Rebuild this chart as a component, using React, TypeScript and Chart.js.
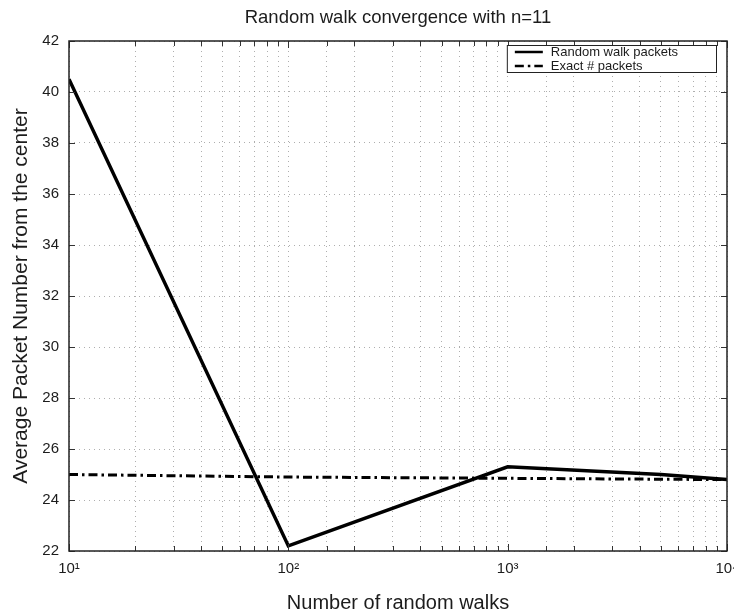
import React, { useEffect, useRef } from 'react';
import { Chart, registerables } from 'chart.js';

Chart.register(...registerables);

// ---- data ----
const walkCounts = [10, 100, 1000, 5000, 10000];
const randomWalkPackets = [40.5, 22.2, 25.3, 25.0, 24.8];
const exactWalkCounts = [10, 100, 1000, 10000];
const exactPackets = [25.0, 24.9, 24.85, 24.8];
const xMajorValues = [10, 100, 1000, 10000];
const xTickLabels = ['10\u00B9', '10\u00B2', '10\u00B3', '10\u2074'];
const yMin = 22;
const yMax = 42;
const yStep = 2;

const titleText = 'Random walk convergence with n=11';
const xTitle = 'Number of random walks';
const yTitle = 'Average Packet Number from the center';
const seriesLabels = ['Random walk packets', 'Exact # packets'];

const FONT = '"Liberation Sans", Arial, Helvetica, sans-serif';
const INK = '#1c1c1c';
const GRID = 'rgba(120,120,120,0.6)';

const innerTicks = {
  id: 'innerTicks',
  afterDatasetsDraw(chart: any) {
    const { ctx, chartArea: a, scales } = chart;
    const x = scales.x;
    const y = scales.y;
    ctx.save();
    ctx.strokeStyle = '#333';
    ctx.lineWidth = 1;
    ctx.beginPath();
    x.ticks.forEach((t: any) => {
      const px = Math.round(x.getPixelForValue(t.value)) + 0.5;
      const len = xMajorValues.includes(t.value) ? 7 : 5;
      ctx.moveTo(px, a.bottom);
      ctx.lineTo(px, a.bottom - len);
      ctx.moveTo(px, a.top);
      ctx.lineTo(px, a.top + len);
    });
    y.ticks.forEach((t: any) => {
      const py = Math.round(y.getPixelForValue(t.value)) + 0.5;
      ctx.moveTo(a.left, py);
      ctx.lineTo(a.left + 6, py);
      ctx.moveTo(a.right, py);
      ctx.lineTo(a.right - 6, py);
    });
    ctx.stroke();
    ctx.strokeStyle = '#222';
    ctx.lineWidth = 1.5;
    ctx.strokeRect(a.left, a.top, a.right - a.left, a.bottom - a.top);
    ctx.restore();
  },
};

const legendBox = {
  id: 'legendBox',
  afterDraw(chart: any) {
    const { ctx, chartArea: a } = chart;
    const items = chart.data.datasets;
    ctx.save();
    ctx.font = `13px ${FONT}`;
    const textW = Math.max(...items.map((d: any) => ctx.measureText(d.label).width));
    const rowH = 14;
    const padL = 8;
    const sample = 28;
    const gap = 8;
    const padR = 38;
    const w = padL + sample + gap + textW + padR;
    const h = items.length * rowH - 1;
    const x0 = a.right - 11 - w;
    const y0 = a.top + 4;
    ctx.fillStyle = '#fff';
    ctx.fillRect(x0, y0, w, h);
    ctx.strokeStyle = '#222';
    ctx.lineWidth = 1;
    ctx.strokeRect(x0 + 0.5, y0 + 0.5, w, h);
    items.forEach((d: any, i: number) => {
      const cy = y0 + 7 + rowH * i;
      ctx.strokeStyle = d.borderColor;
      ctx.lineWidth = 2.5;
      ctx.setLineDash(d.borderDash || []);
      ctx.beginPath();
      ctx.moveTo(x0 + padL, cy);
      ctx.lineTo(x0 + padL + sample, cy);
      ctx.stroke();
      ctx.setLineDash([]);
      ctx.fillStyle = INK;
      ctx.textBaseline = 'middle';
      ctx.textAlign = 'left';
      ctx.fillText(d.label, x0 + padL + sample + gap, cy + 0.5);
    });
    ctx.restore();
  },
};

export default function App() {
  const canvasRef = useRef<HTMLCanvasElement | null>(null);

  useEffect(() => {
    const canvas = canvasRef.current;
    if (!canvas) return;
    const chart = new Chart(canvas, {
      type: 'scatter',
      data: {
        datasets: [
          {
            label: seriesLabels[0],
            data: walkCounts.map((x, i) => ({ x, y: randomWalkPackets[i] })),
            showLine: true,
            borderColor: '#000',
            borderWidth: 3.5,
            pointRadius: 0,
            pointHoverRadius: 0,
            tension: 0,
          },
          {
            label: seriesLabels[1],
            data: exactWalkCounts.map((x, i) => ({ x, y: exactPackets[i] })),
            showLine: true,
            borderColor: '#000',
            borderWidth: 3,
            borderDash: [9, 4, 2.5, 4],
            pointRadius: 0,
            pointHoverRadius: 0,
            tension: 0,
          },
        ],
      },
      options: {
        responsive: false,
        animation: false,
        events: [],
        layout: { padding: { left: 0, right: 7, top: 0, bottom: 0 } },
        plugins: {
          legend: { display: false },
          tooltip: { enabled: false },
          title: {
            display: true,
            text: titleText,
            color: INK,
            fullSize: false,
            font: { family: FONT, size: 18.5, weight: 'normal', lineHeight: 1.2 },
            padding: { top: 7, bottom: 11.8 },
          },
        },
        scales: {
          x: {
            type: 'logarithmic',
            min: 10,
            max: 10000,
            border: { display: false, dash: [1, 4] },
            grid: {
              display: true,
              drawTicks: false,
              color: GRID,
              lineWidth: 1,
            },
            ticks: {
              autoSkip: false,
              maxRotation: 0,
              padding: 9,
              color: INK,
              font: { family: FONT, size: 15 },
              callback: (v: any) => {
                const idx = xMajorValues.indexOf(Number(v));
                return idx >= 0 ? xTickLabels[idx] : '';
              },
            },
            title: {
              display: true,
              text: xTitle,
              color: INK,
              font: { family: FONT, size: 20, lineHeight: 1.0 },
              padding: { top: 0, bottom: 0 },
            },
            afterFit: (s: any) => {
              s.height = 62;
              s.paddingLeft = 0;
              s.paddingRight = 0;
            },
          },
          y: {
            type: 'linear',
            min: yMin,
            max: yMax,
            border: { display: false, dash: [1, 4] },
            grid: {
              display: true,
              drawTicks: false,
              color: GRID,
              lineWidth: 1,
            },
            ticks: {
              stepSize: yStep,
              padding: 10,
              color: INK,
              font: { family: FONT, size: 15 },
            },
            title: {
              display: true,
              text: yTitle,
              color: INK,
              font: { family: FONT, size: 21, lineHeight: 1.2 },
              padding: { top: 9, bottom: 0 },
            },
            afterFit: (s: any) => {
              s.width = 69;
            },
          },
        },
      },
      plugins: [innerTicks, legendBox],
    } as any);
    return () => chart.destroy();
  }, []);

  return (
    <div style={{ position: 'fixed', left: 0, top: 0, width: 734, height: 613, background: '#fff' }}>
      <canvas ref={canvasRef} width={734} height={613} style={{ display: 'block', width: 734, height: 613 }} />
    </div>
  );
}
